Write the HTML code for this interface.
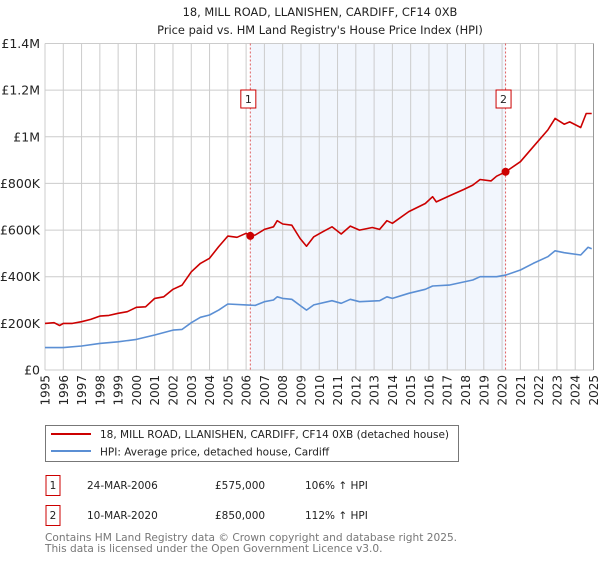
<!DOCTYPE html>
<html><head><meta charset="utf-8"><style>
body{margin:0;background:#fff;font-family:"Liberation Sans","DejaVu Sans",sans-serif;}
svg text{font-family:"DejaVu Sans","Liberation Sans",sans-serif;}
</style></head><body>
<svg id="c" width="600" height="560" viewBox="0 0 600 560" xmlns="http://www.w3.org/2000/svg">
<text x="320" y="16" text-anchor="middle" font-size="11.4" fill="#222">18, MILL ROAD, LLANISHEN, CARDIFF, CF14 0XB</text>
<text x="320" y="34" text-anchor="middle" font-size="11.4" fill="#222">Price paid vs. HM Land Registry's House Price Index (HPI)</text>
<g id="plot"></g>
<g>
<rect x="45.5" y="425.5" width="413" height="36" fill="#fff" stroke="#777"/>
<line x1="51" y1="434" x2="91" y2="434" stroke="#cc0000" stroke-width="2"/>
<text x="100" y="438" font-size="10.5" fill="#222">18, MILL ROAD, LLANISHEN, CARDIFF, CF14 0XB (detached house)</text>
<line x1="51" y1="451" x2="91" y2="451" stroke="#5b8fd4" stroke-width="2"/>
<text x="100" y="455.5" font-size="10.5" fill="#222">HPI: Average price, detached house, Cardiff</text>
</g>
<g font-size="10.5" fill="#222">
<rect x="46" y="475.5" width="14" height="20" fill="#fff" stroke="#cc0000"/>
<text x="53" y="489" text-anchor="middle">1</text>
<text x="87" y="489">24-MAR-2006</text>
<text x="215" y="489">£575,000</text>
<text x="305" y="489">106% ↑ HPI</text>
<rect x="46" y="505.5" width="14" height="20" fill="#fff" stroke="#cc0000"/>
<text x="53" y="519" text-anchor="middle">2</text>
<text x="87" y="519">10-MAR-2020</text>
<text x="215" y="519">£850,000</text>
<text x="305" y="519">112% ↑ HPI</text>
</g>
<text x="45" y="541" font-size="10.6" fill="#777">Contains HM Land Registry data © Crown copyright and database right 2025.</text>
<text x="45" y="552" font-size="10.6" fill="#777">This data is licensed under the Open Government Licence v3.0.</text>
</svg>
<script>
const yTicks=[0,200000,400000,600000,800000,1000000,1200000,1400000];
const yTickLabels=["£0","£200K","£400K","£600K","£800K","£1M","£1.2M","£1.4M"];
const xYears=[1995,1996,1997,1998,1999,2000,2001,2002,2003,2004,2005,2006,2007,2008,2009,2010,2011,2012,2013,2014,2015,2016,2017,2018,2019,2020,2021,2022,2023,2024,2025];
const redT=[1995,1995.5,1995.8,1996,1996.5,1997,1997.5,1998,1998.5,1999,1999.5,2000,2000.5,2001,2001.5,2002,2002.5,2003,2003.5,2004,2004.5,2005,2005.5,2006,2006.23,2006.5,2007,2007.5,2007.7,2008,2008.5,2008.95,2009.3,2009.7,2010.2,2010.7,2011.2,2011.7,2012.2,2012.9,2013.3,2013.7,2014.0,2014.9,2015.8,2016.2,2016.4,2017.1,2017.9,2018.4,2018.8,2019.4,2019.7,2020.19,2021.0,2021.7,2022.5,2022.9,2023.4,2023.7,2024.3,2024.6,2024.9];
const redV=[200,203,191,200,200,207,217,231,234,243,250,269,271,307,314,346,364,421,457,479,529,574,569,586,575,579,603,614,640,626,621,564,531,571,593,614,583,617,600,611,603,640,629,679,714,743,721,746,774,793,817,811,831,850,893,957,1029,1079,1054,1064,1040,1100,1100];
const blueT=[1995,1996,1997,1998,1999,2000,2001,2002,2002.5,2003,2003.5,2004,2004.5,2005,2006,2006.5,2007,2007.5,2007.7,2008,2008.5,2009,2009.3,2009.7,2010.7,2011.2,2011.7,2012.2,2013.3,2013.7,2014.0,2014.9,2015.8,2016.2,2017.1,2018.4,2018.8,2019.7,2020.2,2021.0,2021.7,2022.5,2022.9,2023.4,2024.3,2024.7,2024.9];
const blueV=[96,96,103,114,121,131,150,171,174,203,226,236,257,283,279,277,293,300,314,307,303,274,257,279,297,286,303,293,297,314,307,329,346,360,364,386,400,400,407,429,457,486,511,503,493,526,520];
const saleT=[2006.23,2020.19];
const saleV=[575000,850000];
const saleLabels=["1","2"];
const NS="http://www.w3.org/2000/svg";
const L=45,R=593.5,T=43.5,B=370;
const xs=t=>L+(t-1995)/(2025-1995)*(R-L);
const ys=v=>B-v/1400000*(B-T);
const g=document.getElementById('plot');
function mk(tag,attrs){const e=document.createElementNS(NS,tag);for(const k in attrs)e.setAttribute(k,attrs[k]);g.appendChild(e);return e;}
let e=mk('rect',{x:xs(saleT[0]),y:T,width:xs(saleT[1])-xs(saleT[0]),height:B-T,fill:'#eef3fc',opacity:0.75});


xYears.forEach(y=>{const l=mk('line',{x1:xs(y),x2:xs(y),y1:T,y2:B,stroke:'#ccc','stroke-width':1});


const tx=mk('text',{x:0,y:0,'font-size':12,fill:'#222','text-anchor':'end',transform:`translate(${xs(y)+4.5},${B+5}) rotate(-90)`});tx.textContent=y;

});
yTicks.forEach((v,i)=>{const l=mk('line',{x1:L,x2:R,y1:ys(v),y2:ys(v),stroke:'#ccc','stroke-width':1});


const tx=mk('text',{x:40,y:ys(v)+4.5,'font-size':12.5,fill:'#222','text-anchor':'end'});tx.textContent=yTickLabels[i];

});
saleT.forEach((t,i)=>{const l=mk('line',{x1:xs(t),x2:xs(t),y1:T,y2:B,stroke:'#e06060','stroke-width':1,'stroke-dasharray':'2,2'});


const bx=mk('rect',{x:xs(t)-9.5,y:90,width:15,height:18,fill:'#fff',stroke:'#cc0000'});


const tx=mk('text',{x:xs(t)-2,y:103,'font-size':11,fill:'#222','text-anchor':'middle'});tx.textContent=saleLabels[i];

});
function path(T_,V_,col,name){const d=T_.map((t,i)=>(i?'L':'M')+xs(t).toFixed(1)+','+ys(V_[i]*1000).toFixed(1)).join('');
const p=mk('path',{d:d,fill:'none',stroke:col,'stroke-width':1.6,'stroke-linejoin':'round'});

}
path(blueT,blueV,'#5b8fd4','hpi-line');
path(redT,redV,'#cc0000','property-price-line');
saleT.forEach((t,i)=>{const c=mk('circle',{cx:xs(t),cy:ys(saleV[i]),r:4,fill:'#cc0000'});

});
const ax=mk('line',{x1:R,x2:R,y1:T,y2:B,stroke:'#999','stroke-width':1});


</script>
</body></html>
